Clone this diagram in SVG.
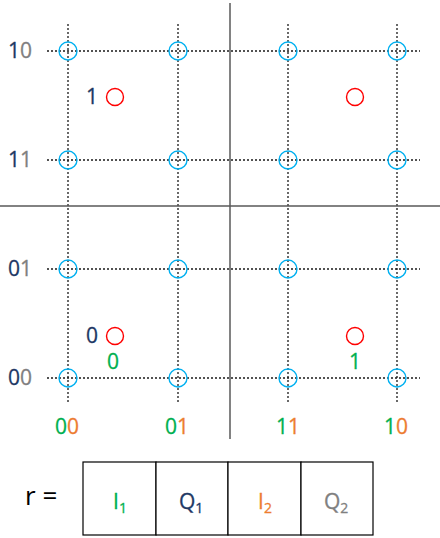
<svg xmlns="http://www.w3.org/2000/svg" width="440" height="538" viewBox="0 0 440 538">
<style>
.dot{stroke:#1a1a1a;stroke-width:1.3;stroke-dasharray:2,2;fill:none}
.axis{stroke:#595959;stroke-width:1.5;fill:none}
.pt{fill:none;stroke:#00B0F0;stroke-width:1.4}
.rx{fill:none;stroke:#FF0000;stroke-width:1.4}
text{font-family:"Open Sans","Liberation Sans",Arial,sans-serif;font-size:21px;stroke-width:0.3}
.nv{fill:#203864;stroke:#203864}.gy{fill:#808080;stroke:#808080}.gr{fill:#00B050;stroke:#00B050}.or{fill:#ED7D31;stroke:#ED7D31}
.cell{fill:#fff;stroke:#000;stroke-width:1.2}
.sub{font-size:14px}
</style>
<rect width="440" height="538" fill="#fff"/>
<g id="connectors">
<line class="dot" x1="68" y1="24" x2="68" y2="404"/>
<line class="dot" x1="178" y1="24" x2="178" y2="404"/>
<line class="dot" x1="288" y1="24" x2="288" y2="404"/>
<line class="dot" x1="397" y1="24" x2="397" y2="404"/>
<line class="dot" x1="47" y1="51" x2="420" y2="51"/>
<line class="dot" x1="47" y1="160" x2="420" y2="160"/>
<line class="dot" x1="47" y1="269" x2="420" y2="269"/>
<line class="dot" x1="47" y1="378" x2="420" y2="378"/>
<line class="axis" x1="230" y1="3" x2="230" y2="439"/>
<line class="axis" x1="0" y1="206" x2="440" y2="206"/>
</g>
<g id="points">
<circle class="pt" cx="68" cy="51" r="9"/><circle class="pt" cx="178" cy="51" r="9"/><circle class="pt" cx="288" cy="51" r="9"/><circle class="pt" cx="397" cy="51" r="9"/>
<circle class="pt" cx="68" cy="160" r="9"/><circle class="pt" cx="178" cy="160" r="9"/><circle class="pt" cx="288" cy="160" r="9"/><circle class="pt" cx="397" cy="160" r="9"/>
<circle class="pt" cx="68" cy="269" r="9"/><circle class="pt" cx="178" cy="269" r="9"/><circle class="pt" cx="288" cy="269" r="9"/><circle class="pt" cx="397" cy="269" r="9"/>
<circle class="pt" cx="68" cy="378" r="9"/><circle class="pt" cx="178" cy="378" r="9"/><circle class="pt" cx="288" cy="378" r="9"/><circle class="pt" cx="397" cy="378" r="9"/>
</g>
<g id="received">
<circle class="rx" cx="115" cy="97" r="8.5"/>
<circle class="rx" cx="355" cy="97" r="8.5"/>
<circle class="rx" cx="115" cy="336" r="8.5"/>
<circle class="rx" cx="355" cy="336" r="8.5"/>
</g>
<g id="labels">
<text x="8" y="58"><tspan class="nv">1</tspan><tspan class="gy">0</tspan></text>
<text x="8" y="167"><tspan class="nv">1</tspan><tspan class="gy">1</tspan></text>
<text x="8" y="276"><tspan class="nv">0</tspan><tspan class="gy">1</tspan></text>
<text x="8" y="385"><tspan class="nv">0</tspan><tspan class="gy">0</tspan></text>
<text class="nv" x="92" y="104" text-anchor="middle">1</text>
<text class="nv" x="92" y="343" text-anchor="middle">0</text>
<text class="gr" x="113" y="369" text-anchor="middle">0</text>
<text class="gr" x="355" y="369" text-anchor="middle">1</text>
<text x="67" y="434" text-anchor="middle"><tspan class="gr">0</tspan><tspan class="or">0</tspan></text>
<text x="177" y="434" text-anchor="middle"><tspan class="gr">0</tspan><tspan class="or">1</tspan></text>
<text x="288" y="434" text-anchor="middle"><tspan class="gr">1</tspan><tspan class="or">1</tspan></text>
<text x="396" y="434" text-anchor="middle"><tspan class="gr">1</tspan><tspan class="or">0</tspan></text>
</g>
<g id="register">
<text x="25" y="505" style="font-size:26px" fill="#000">r =</text>
<rect class="cell" x="83" y="462" width="73" height="73"/>
<rect class="cell" x="156" y="462" width="72" height="73"/>
<rect class="cell" x="228" y="462" width="73" height="73"/>
<rect class="cell" x="301" y="462" width="72" height="73"/>
<text class="gr" x="113" y="509">I<tspan class="sub" dy="4">1</tspan></text>
<text class="nv" x="179" y="509">Q<tspan class="sub" dy="4">1</tspan></text>
<text class="or" x="258" y="509">I<tspan class="sub" dy="4">2</tspan></text>
<text class="gy" x="324" y="509">Q<tspan class="sub" dy="4">2</tspan></text>
</g>
</svg>
